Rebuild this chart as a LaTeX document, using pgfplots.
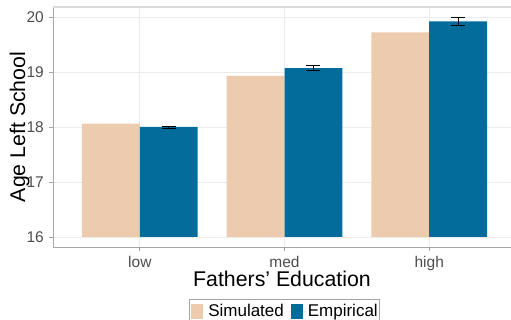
\documentclass[border=0pt]{standalone}
\usepackage{pgfplots}
\pgfplotsset{compat=1.18}
\usepackage{fontspec}
\setmainfont{Liberation Sans}
\definecolor{sim}{HTML}{ECCBAE}
\definecolor{emp}{HTML}{046C9A}
\definecolor{gridc}{HTML}{EBEBEB}
\definecolor{tickc}{HTML}{4D4D4D}
\definecolor{axc}{HTML}{A6A6A6}
\begin{document}
\begin{tikzpicture}
\path[use as bounding box] (0,0) rectangle (511bp,320bp);
\begin{axis}[
  at={(53bp,73bp)}, anchor=south west,
  width=458bp, height=240bp, scale only axis,
  xmin=0.4, xmax=3.565,
  ymin=15.818, ymax=20.182,
  y coord trafo/.code={\pgfmathparse{#1-16}},
  y coord inv trafo/.code={\pgfmathparse{#1+16}},
  ytick={16,17,18,19,20}, yticklabels={16,17,18,19,20},
  xtick={1,2,3}, xticklabels={low,med,high},
  grid=major, major grid style={draw=gridc, line width=0.8bp},
  axis x line*=bottom, axis y line*=left,
  axis line style={draw=axc, line width=1bp},
  tick align=outside, major tick length=4bp,
  tick style={draw=axc, line width=0.8bp},
  ticklabel style={font=\fontsize{15.5bp}{17bp}\selectfont, text=tickc},
  yticklabel style={anchor=east, inner sep=0pt, xshift=-5bp},
  xticklabel style={anchor=base, inner sep=0pt, yshift=-16bp},
  xlabel={Fathers' Education},
  ylabel={Age Left School},
  label style={font=\fontsize{21.3bp}{24bp}\selectfont, inner sep=0pt},
  xlabel style={at={(axis description cs:0.5,-0.1625)}, anchor=base},
  ylabel style={at={(axis description cs:-0.0611,0.5)}, anchor=base},
  legend columns=2,
  legend style={at={(axis description cs:0.5055,-0.2167)}, anchor=north,
    draw=axc, line width=0.8bp, font=\fontsize{17bp}{19bp}\selectfont,
    inner xsep=0bp, inner ysep=3bp,
    /tikz/every even column/.append style={column sep=3bp}},
  legend image code/.code={\fill[#1] (2bp,-7.5bp) rectangle (14bp,7.5bp);\path (0bp,0bp) -- (17bp,0bp);},
  after end axis/.code={\draw[draw=gridc!85!gray, line width=1.5bp] (rel axis cs:0,1) -- (rel axis cs:1,1);},
]
\addplot[ybar, bar width=0.4, bar shift=-0.2, fill=sim, draw=none]
  coordinates {(1,18.06) (2,18.93) (3,19.72)};
\addlegendentry{Simulated}
\addplot[ybar, bar width=0.4, bar shift=0.2, fill=emp, draw=none]
  coordinates {(1,18.0) (2,19.07) (3,19.92)};
\addlegendentry{Empirical}
\addplot[draw=none, mark=none, forget plot,
  error bars/.cd, y dir=both, y explicit,
  error bar style={draw=black, line width=0.7bp},
  error mark options={rotate=90, draw=black, line width=0.7bp, mark size=7bp}]
  coordinates {(1.2,18.0) +- (0,0.02) (2.2,19.07) +- (0,0.045) (3.2,19.92) +- (0,0.07)};
\end{axis}
\end{tikzpicture}
\end{document}
